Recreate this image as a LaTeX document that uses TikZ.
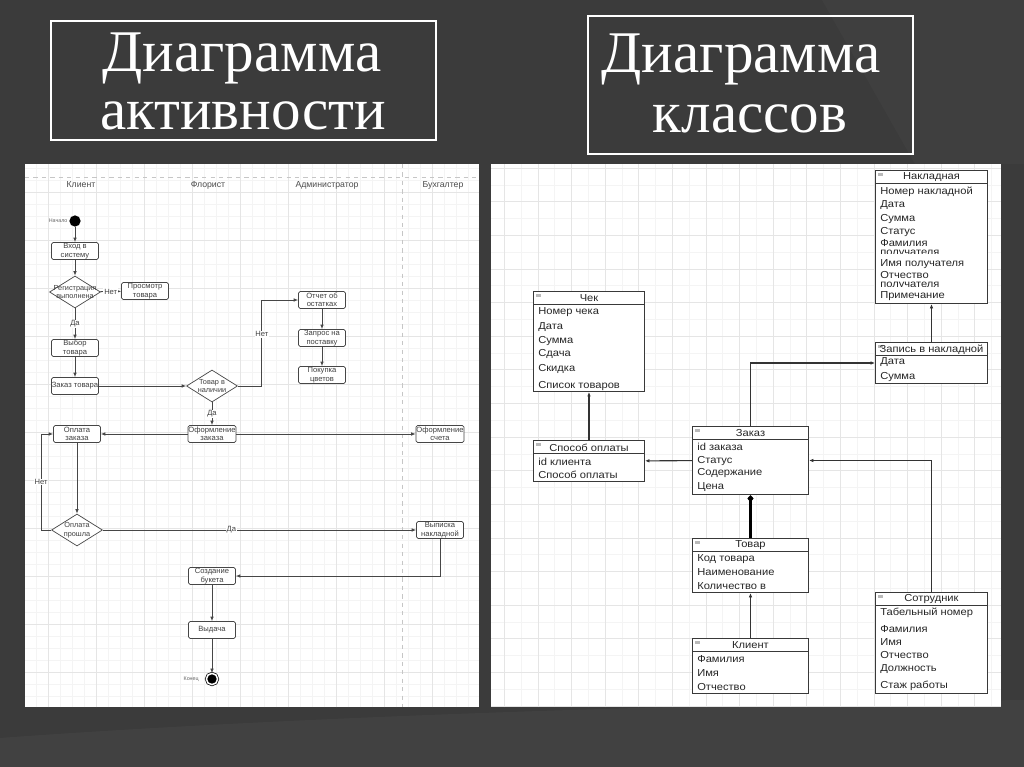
\documentclass[tikz,border=0pt]{standalone}
\usepackage{fontspec}
\setmainfont{Liberation Sans}
\newfontfamily\titlefont{Liberation Serif}
\newfontfamily\clsfont{Liberation Sans}[FakeStretch=1.1]
\usetikzlibrary{arrows.meta,calc,positioning,shapes.geometric}
\definecolor{slide}{RGB}{59,59,59}
\definecolor{ink}{RGB}{70,70,70}
\newlength\pxu
\setlength\pxu{0.025cm}
% class box: name, left, top, width, height, title
\newcommand{\umlclass}[6]{%
  \node[cls, minimum width={#4*\pxu}, minimum height={#5*\pxu}] (#1) at (#2,#3) {};
  \draw[clsrule] ($(#1.north west)+(0,13)$) -- ($(#1.north east)+(0,13)$);
  \fill[gray!55] ($(#1.north west)+(3,3)$) rectangle ++(5,3);
  \node[clshead] (#1-head) at ($(#1.north)+(0,7.5)$) {#6};
}

\begin{document}
\begin{tikzpicture}[x=0.025cm,y=-0.025cm,>={Latex[length=3.2pt,width=2.6pt]},
    ttl/.style={font=\titlefont\fontsize{42}{48}\selectfont, text=white, inner sep=0pt, anchor=base},
    abox/.style={draw=ink, fill=white, rounded corners=1.2pt, line width=0.5pt,
      minimum width={47*\pxu}, minimum height={17*\pxu}, inner sep=0.3pt, align=center,
      font=\fontsize{5.4}{6}\selectfont, text=black!75},
    dia/.style={diamond, draw=ink, fill=white, line width=0.5pt, inner sep=0pt,
      minimum width={51*\pxu}, minimum height={32*\pxu}},
    dtxt/.style={align=center, inner sep=0pt, font=\fontsize{5.2}{6}\selectfont, text=black!75},
    lbl/.style={fill=white, inner sep=0.6pt, font=\fontsize{5.4}{6}\selectfont, text=black!75},
    lane/.style={draw=gray!45, dashed, line width=0.4pt},
    hdr/.style={font=\fontsize{6.2}{7}\selectfont, text=black!70, inner sep=0pt},
    aline/.style={draw=ink, line width=0.55pt, ->},
    cls/.style={draw=gray!45!black, fill=white, anchor=north west, inner sep=0pt, line width=0.7pt},
    clsrule/.style={draw=gray!45!black, line width=0.6pt},
    clshead/.style={font=\clsfont\fontsize{7.2}{8}\selectfont, text=black!85, inner sep=0pt},
    clsitem/.style={anchor=west, font=\clsfont\fontsize{7.2}{8}\selectfont, text=black!85, inner sep=0pt},
    cline/.style={draw=gray!40!black, line width=0.75pt, ->}]
  \useasboundingbox (0,0) rectangle (1024,767);
  % --- slide background
  \fill[slide] (0,0) rectangle (1024,767);
  \fill[white, opacity=0.025] (822,0) -- (1024,0) -- (1024,164) -- (915,164) -- cycle;
  \fill[white, opacity=0.035] (0,767) -- (0,738) .. controls (300,716) and (700,704) .. (1024,700) -- (1024,767) -- cycle;
  % --- titles
  \draw[white, line width=1.1pt] (51,21) rectangle (436,140);
  \node[ttl] (t1a) at (242,72) {Диаграмма};
  \node[ttl] (t1b) at (243,130) {активности};
  \draw[white, line width=2pt] (588,16) rectangle (913,154);
  \node[ttl] (t2a) at (741,73) {Диаграмма};
  \node[ttl] (t2b) at (750,133) {классов};
  % --- panels with grid
  \fill[white] (25,164) rectangle (479,707);
  \draw[gray!9, line width=0.3pt, step=0.3cm] (25,164) grid (479,707);
  \draw[gray!20, line width=0.3pt, step=1.2cm] (25,164) grid (479,707);
  \fill[white] (491,164) rectangle (1001,707);
  \draw[gray!9, line width=0.3pt, step=0.42cm] (491,164) grid (1001,707);
  \draw[gray!20, line width=0.3pt, step=0.84cm] (491,164) grid (1001,707);

  % --- activity diagram: lanes
  \draw[lane] (25,177) -- (479,177);
  \draw[lane] (402,164) -- (402,707);
  \node[hdr] (hd-klient) at (81,185) {Клиент};
  \node[hdr] (hd-florist) at (208,185) {Флорист};
  \node[hdr] (hd-admin) at (327,185) {Администратор};
  \node[hdr] (hd-buh) at (443,185) {Бухгалтер};
  % nodes
  \node[circle, fill=black, minimum size=8pt, inner sep=0pt] (start) at (75,221) {};
  \node[font=\fontsize{3.8}{4}\selectfont, text=black!60, left=1pt of start, inner sep=0pt] (start-l) {Начало};
  \node[abox] (vhod) at (75,251) {Вход в\\систему};
  \node[dia, label={[dtxt]center:Регистрация\\выполнена}] (reg) at (75,292) {};
  \node[abox] (prosm) at (145,291) {Просмотр\\товара};
  \node[abox] (vybor) at (75,348) {Выбор\\товара};
  \node[abox] (zakazt) at (75,386) {Заказ товара};
  \node[dia, label={[dtxt]center:Товар в\\наличии}] (nal) at (212,386) {};
  \node[abox] (otchet) at (322,300) {Отчет об\\остатках};
  \node[abox] (zapros) at (322,338) {Запрос на\\поставку};
  \node[abox] (pokupka) at (322,375) {Покупка\\цветов};
  \node[abox] (oformz) at (212,434) {Оформление\\заказа};
  \node[abox] (oplz) at (77,434) {Оплата\\заказа};
  \node[abox] (oforms) at (440,434) {Оформление\\счета};
  \node[dia, label={[dtxt]center:Оплата\\прошла}] (oplp) at (77,530) {};
  \node[abox] (vyp) at (440,530) {Выписка\\накладной};
  \node[abox] (sozd) at (212,576) {Создание\\букета};
  \node[abox] (vydacha) at (212,630) {Выдача};
  \node[circle, fill=black, draw=black, double=white, double distance=1.1pt, line width=0.5pt,
    minimum size=8pt, inner sep=0pt] (finish) at (212,679) {};
  \node[font=\fontsize{3.8}{4}\selectfont, text=black!60, left=5pt of finish, inner sep=0pt] (finish-l) {Конец};
  % flows
  \draw[aline] (start) -- (vhod);
  \draw[aline] (vhod) -- (reg);
  \draw[aline] (reg) -- (prosm) node[midway, lbl] {Нет};
  \draw[aline] (reg) -- (vybor) node[midway, lbl] {Да};
  \draw[aline] (vybor) -- (zakazt);
  \draw[aline] (zakazt) -- (nal);
  \draw[aline] (nal.east) -- ++(24,0) |- node[pos=0.3, lbl] {Нет} (otchet.west);
  \draw[aline] (otchet) -- (zapros);
  \draw[aline] (zapros) -- (pokupka);
  \draw[aline] (nal) -- (oformz) node[midway, lbl] {Да};
  \draw[aline] (oformz) -- (oplz);
  \draw[aline] (oformz) -- (oforms);
  \draw[aline] (oplz) -- (oplp);
  \draw[aline] (oplp.west) -- ++(-10,0) |- node[pos=0.25, lbl] {Нет} (oplz.west);
  \draw[aline] (oplp) -- (vyp) node[pos=0.41, lbl] {Да};
  \draw[aline] (vyp.south) |- (sozd.east);
  \draw[aline] (sozd) -- (vydacha);
  \draw[aline] (vydacha) -- (finish);

  % --- class diagram
  \umlclass{chek}{533}{291}{111}{100}{Чек}
  \foreach \y/\txt [count=\i] in {312/Номер чека,327/Дата,341/Сумма,354/Сдача,369/Скидка,386/Список товаров}
    {\node[clsitem] (chek-\i) at (538,\y) {\txt};}
  \umlclass{sposob}{533}{440}{111}{41}{Способ оплаты}
  \foreach \y/\txt [count=\i] in {462/id клиента,475/Способ оплаты}
    {\node[clsitem] (sposob-\i) at (538,\y) {\txt};}
  \umlclass{zakaz}{692}{426}{116}{68}{Заказ}
  \foreach \y/\txt [count=\i] in {447/id заказа,461/Статус,473/Содержание,487/Цена}
    {\node[clsitem] (zakaz-\i) at (697,\y) {\txt};}
  \umlclass{tovar}{692}{538}{116}{54}{Товар}
  \foreach \y/\txt [count=\i] in {559/Код товара,572/Наименование,586/Количество в}
    {\node[clsitem] (tovar-\i) at (697,\y) {\txt};}
  \umlclass{klient}{692}{638}{116}{55}{Клиент}
  \foreach \y/\txt [count=\i] in {659/Фамилия,673/Имя,687/Отчество}
    {\node[clsitem] (klient-\i) at (697,\y) {\txt};}
  \umlclass{nakl}{875}{170}{112}{133}{Накладная}
  \foreach \y/\txt [count=\i] in {192/Номер накладной,205/Дата,219/Сумма,232/Статус,264/Имя получателя,296/Примечание}
    {\node[clsitem] (nakl-\i) at (880,\y) {\txt};}
  % two-line items cut off by the row height
  \begin{scope}
    \clip (876,238) rectangle (986,254);
    \node[clsitem, align=left, font=\clsfont\fontsize{7.2}{6.7}\selectfont] (nakl-fam) at (880,248.5) {Фамилия\\получателя};
  \end{scope}
  \begin{scope}
    \clip (876,270) rectangle (986,286);
    \node[clsitem, align=left, font=\clsfont\fontsize{7.2}{6.7}\selectfont] (nakl-otch) at (880,280.5) {Отчество\\получателя};
  \end{scope}
  \umlclass{zapis}{875}{342}{112}{41}{Запись в накладной}
  \foreach \y/\txt [count=\i] in {362/Дата,377/Сумма}
    {\node[clsitem] (zapis-\i) at (880,\y) {\txt};}
  \umlclass{sotr}{875}{592}{112}{101}{Сотрудник}
  \foreach \y/\txt [count=\i] in {613/Табельный номер,629/Фамилия,642/Имя,655/Отчество,669/Должность,686/Стаж работы}
    {\node[clsitem] (sotr-\i) at (880,\y) {\txt};}
  % relations
  \draw[cline] (sposob) -- (chek);
  \draw[cline] (zakaz) -- (sposob);
  \draw[draw=black, line width=2.2pt, -{Diamond[length=5pt,width=4.5pt]}] (tovar) -- (zakaz);
  \draw[cline] (klient) -- (tovar);
  \draw[cline] (zakaz.north) |- (zapis.west);
  \draw[cline] (zapis) -- (nakl);
  \draw[cline] (sotr.north) |- (zakaz.east);
\end{tikzpicture}
\end{document}
